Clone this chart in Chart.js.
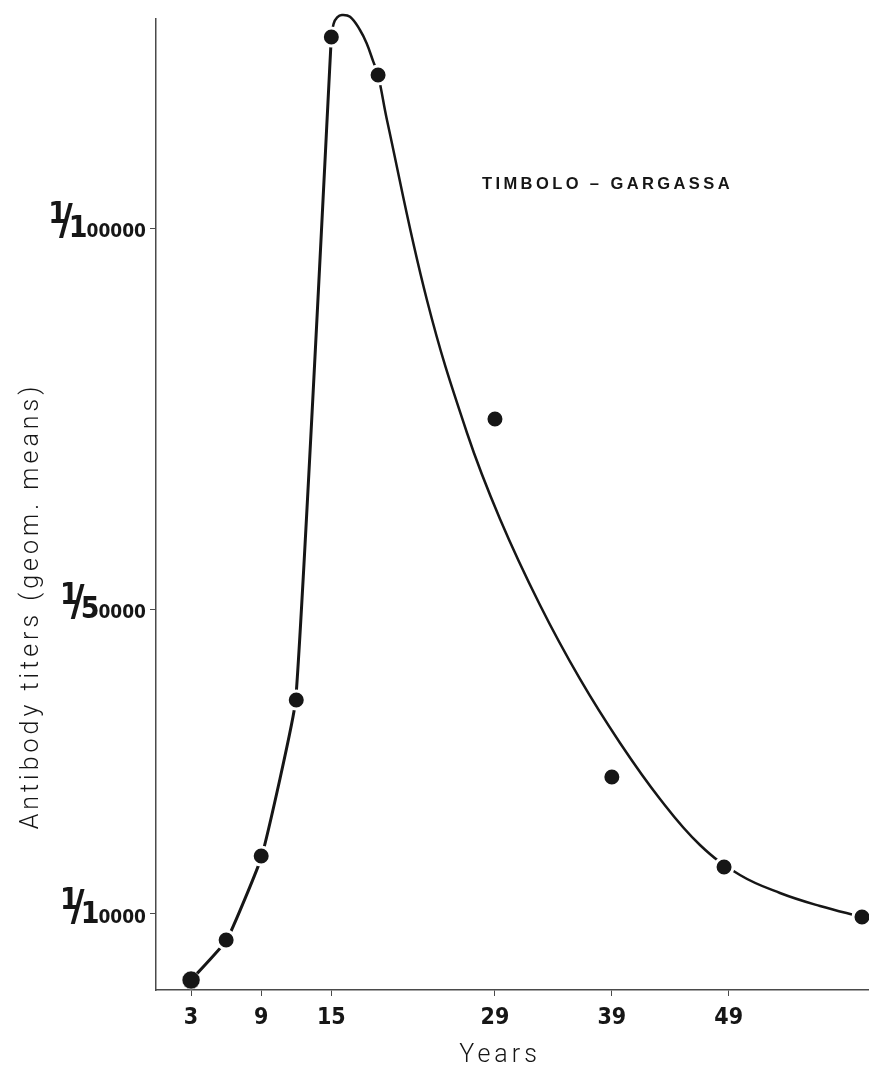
<!DOCTYPE html>
<html>
<head>
<meta charset="utf-8">
<script src="https://cdn.jsdelivr.net/npm/chart.js@4"></script>
<style>
  html, body { margin: 0; padding: 0; background: #ffffff; }
  #wrap { width: 869px; height: 1070px; position: relative; }
</style>
</head>
<body>
<div id="wrap"><canvas id="c" width="869" height="1070"></canvas></div>
<script>
// ---- data ----
const seriesLabel = 'TIMBOLO – GARGASSA';
const xTitle = 'Years';
const yTitle = 'Antibody titers (geom. means)';

const xTickValues = [3, 9, 15, 29, 39, 49];
const yTickValues = [10000, 50000, 100000];
const yTickLabels = ['1/10000', '1/50000', '1/100000'];

// observed group means (reciprocal titers)
const pointYears  = [3, 6, 9, 12, 15, 19, 29, 39, 48.6, 60.4];
const pointTiters = [1310, 6570, 17600, 38080, 125140, 120150, 74980, 27970, 16150, 9590];

// hand-drawn fitted curve: rising limb ...
const riseYears  = [3, 6.05, 9.05, 11.95, 15.0];
const riseTiters = [1310, 6570, 17600, 38080, 125140];
// ... and peak + falling limb
const fallYears  = [15.0, 15.2, 15.5, 15.9, 16.6, 17.45, 18.02, 18.59, 19.0, 19.76, 23.18, 26.61, 29.43, 32.85, 36.27, 39.7, 43.12, 46.54, 49.96, 53.38, 56.81, 60.4];
const fallTiters = [125140, 126900, 127700, 128030, 127800, 126060, 124310, 121900, 120150, 114240, 90600, 73140, 61850, 50550, 40840, 32430, 25080, 19040, 15100, 12740, 11030, 9590];

// ---- styling ----
const INK = '#161616';
const AXIS = '#4a4a4a';
const DIGIT_FONT = "'DejaVu Sans Condensed', 'DejaVu Sans', sans-serif";
const LIGHT_FONT = "Roboto, 'Liberation Sans', sans-serif";

function drawFraction(ctx, label, right, ty) {
  const parts = label.split('/');
  const num = parts[0], den = parts[1];
  const first = den.charAt(0), rest = den.slice(1);
  ctx.save();
  ctx.fillStyle = INK;
  ctx.textBaseline = 'alphabetic';
  ctx.textAlign = 'left';
  ctx.font = 'bold 19px ' + DIGIT_FONT;
  const wRest = ctx.measureText(rest).width;
  const restX = right - wRest;
  ctx.fillText(rest, restX, ty + 9);
  ctx.font = 'bold 30px ' + DIGIT_FONT;
  const wFirst = ctx.measureText(first).width;
  const firstX = restX - wFirst + 1;
  ctx.fillText(first, firstX, ty + 9);
  ctx.font = 'bold 42px ' + DIGIT_FONT;
  const wSl = ctx.measureText('/').width;
  const slX = firstX - wSl + 4;
  ctx.fillText('/', slX, ty + 6);
  ctx.font = 'bold 30px ' + DIGIT_FONT;
  const wNum = ctx.measureText(num).width;
  ctx.fillText(num, slX - wNum + 8, ty - 5);
  ctx.restore();
}

function spacedText(ctx, text, x, y, spacing) {
  if ('letterSpacing' in ctx) {
    ctx.letterSpacing = spacing + 'px';
  }
  ctx.fillText(text, x, y);
}

const textPlugin = {
  id: 'textPlugin',
  afterDraw(chart) {
    const ctx = chart.ctx;
    const ys = chart.scales.y;
    yTickValues.forEach((v, i) => drawFraction(ctx, yTickLabels[i], 146, ys.getPixelForValue(v)));

    // y axis title
    ctx.save();
    ctx.fillStyle = INK;
    ctx.font = '300 25px ' + LIGHT_FONT;
    ctx.translate(38, 606);
    ctx.rotate(-Math.PI / 2);
    ctx.textAlign = 'center';
    ctx.textBaseline = 'alphabetic';
    spacedText(ctx, yTitle, 0, 0, 4);
    ctx.restore();

    // x axis title
    ctx.save();
    ctx.fillStyle = INK;
    ctx.font = '300 25px ' + LIGHT_FONT;
    ctx.textAlign = 'center';
    ctx.textBaseline = 'alphabetic';
    spacedText(ctx, xTitle, 500, 1062, 4);
    ctx.restore();

    // series label
    ctx.save();
    ctx.fillStyle = INK;
    ctx.font = 'bold 16.5px ' + "'Liberation Sans', Arial, sans-serif";
    ctx.textAlign = 'left';
    ctx.textBaseline = 'alphabetic';
    spacedText(ctx, seriesLabel, 482, 189, 3.4);
    ctx.restore();
  }
};

const points = pointYears.map((x, i) => ({ x: x, y: pointTiters[i] }));
const rise = riseYears.map((x, i) => ({ x: x, y: riseTiters[i] }));
const fall = fallYears.map((x, i) => ({ x: x, y: fallTiters[i] }));

const curveStyle = {
  type: 'line',
  order: 1,
  borderColor: INK,
  pointRadius: 0,
  fill: false,
  clip: false,
  borderCapStyle: 'round',
  borderJoinStyle: 'round'
};

new Chart(document.getElementById('c'), {
  type: 'scatter',
  data: {
    datasets: [
      {
        type: 'scatter',
        label: 'means',
        data: points,
        order: 0,
        pointRadius: 9,
        pointHoverRadius: 9,
        backgroundColor: INK,
        borderColor: '#ffffff',
        borderWidth: (c) => (c.raw && c.raw.y < 3000 ? 0.5 : 3),
        clip: false
      },
      Object.assign({}, curveStyle, { label: 'curve (rise)', data: rise, tension: 0.12, borderWidth: 3 }),
      Object.assign({}, curveStyle, { label: 'curve (fall)', data: fall, tension: 0.4, borderWidth: 2.5 })
    ]
  },
  options: {
    responsive: false,
    animation: false,
    devicePixelRatio: 1,
    layout: { autoPadding: false, padding: { top: 19, right: 0, left: 0, bottom: 0 } },
    plugins: {
      legend: { display: false },
      tooltip: { enabled: false },
      title: { display: false }
    },
    scales: {
      x: {
        type: 'linear',
        min: 0,
        max: 61,
        afterBuildTicks: (s) => { s.ticks = xTickValues.map(v => ({ value: v })); },
        afterFit: (s) => { s.height = 80; s.paddingLeft = 0; s.paddingRight = 0; },
        grid: { display: true, drawOnChartArea: false, drawTicks: true, tickLength: 6, color: AXIS, lineWidth: 1 },
        border: { display: true, color: AXIS, width: 1.5 },
        ticks: {
          autoSkip: false,
          maxRotation: 0,
          padding: 8,
          color: INK,
          font: { family: DIGIT_FONT, weight: 'bold', size: 23 },
          callback: (v) => String(v)
        }
      },
      y: {
        type: 'linear',
        min: 0,
        max: 127500,
        afterBuildTicks: (s) => { s.ticks = yTickValues.map(v => ({ value: v })); },
        afterFit: (s) => { s.width = 156; s.paddingTop = 0; s.paddingBottom = 0; },
        grid: { display: true, drawOnChartArea: false, drawTicks: true, tickLength: 6, color: AXIS, lineWidth: 1 },
        border: { display: true, color: AXIS, width: 1.5 },
        ticks: { display: false }
      }
    }
  },
  plugins: [textPlugin]
});
</script>
</body>
</html>
